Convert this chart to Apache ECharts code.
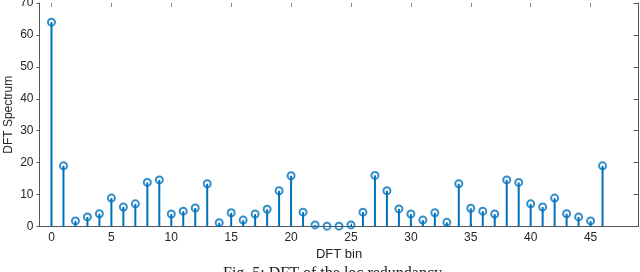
<!DOCTYPE html>
<html><head><meta charset="utf-8">
<script src="https://cdn.jsdelivr.net/npm/echarts@6/dist/echarts.min.js"></script>
<style>html,body{margin:0;padding:0;background:#fff}#c{width:640px;height:272px}</style>
</head><body><div id="c"></div>
<script>
const bins = [0,1,2,3,4,5,6,7,8,9,10,11,12,13,14,15,16,17,18,19,20,21,22,23,24,25,26,27,28,29,30,31,32,33,34,35,36,37,38,39,40,41,42,43,44,45,46];
const spectrum = [64,19.0,1.75,3.0,4.0,8.9,6.1,7.1,13.8,14.6,3.9,4.8,5.8,13.4,1.2,4.3,2.0,3.9,5.4,11.2,15.9,4.5,0.5,0.1,0.1,0.5,4.5,16.0,11.2,5.5,3.9,2.0,4.3,1.3,13.4,5.7,4.8,3.9,14.6,13.8,7.1,6.1,8.9,4.0,3.0,1.75,19.0];
const xTicks = [0,5,10,15,20,25,30,35,40,45];
const yTicks = [0,10,20,30,40,50,60,70];
const xLabel = 'DFT bin';
const yLabel = 'DFT Spectrum';
const caption = 'Fig. 5: DFT of the loc redundancy';

const blue = '#0072BD';
const axisCol = '#555';
const txt = '#262626';
const font = '"Liberation Sans", Arial, sans-serif';
const pts = bins.map((b,i)=>[b, spectrum[i]]);

const chart = echarts.init(document.getElementById('c'));
chart.setOption({
  animation:false,
  grid:{left:39.5, right:1.5, top:3, bottom:45.5, containLabel:false, outerBoundsMode:'none'},
  xAxis:[{
    type:'value', min:-1, max:49,
    axisLine:{show:true, onZero:false, lineStyle:{color:axisCol, width:1}},
    axisTick:{show:true, inside:true, length:3, customValues:xTicks, lineStyle:{color:axisCol}},
    axisLabel:{customValues:xTicks, color:txt, fontFamily:font, fontSize:12, margin:5},
    splitLine:{show:false},
    name:xLabel, nameLocation:'middle', nameGap:21, nameMoveOverlap:false,
    nameTextStyle:{color:txt, fontFamily:font, fontSize:13}
  },{
    type:'value', min:-1, max:49, position:'top',
    axisLine:{show:true, onZero:false, lineStyle:{color:'#fff', opacity:0}},
    axisTick:{show:true, inside:true, length:4, customValues:xTicks, lineStyle:{color:'#888'}},
    axisLabel:{show:false, customValues:xTicks}, splitLine:{show:false}
  }],
  yAxis:[{
    type:'value', min:0, max:70, interval:10,
    axisLine:{show:true, onZero:false, lineStyle:{color:axisCol, width:1}},
    axisTick:{show:true, inside:false, length:3, lineStyle:{color:axisCol}},
    axisLabel:{color:txt, fontFamily:font, fontSize:12, margin:6},
    splitLine:{show:false},
    name:yLabel, nameLocation:'middle', nameGap:25, nameMoveOverlap:false,
    nameTextStyle:{color:txt, fontFamily:font, fontSize:12}
  },{
    type:'value', min:0, max:70, interval:10, position:'right',
    axisLine:{show:true, onZero:false, lineStyle:{color:axisCol, width:1}},
    axisTick:{show:true, inside:true, length:5, lineStyle:{color:axisCol}},
    axisLabel:{show:false}, splitLine:{show:false}
  }],
  series:[{
    type:'custom', data:pts, z:2, silent:true,
    renderItem:function(params, api){
      const top = api.coord([api.value(0), api.value(1)]);
      const base = api.coord([api.value(0), 0]);
      return {type:'line', shape:{x1:base[0], y1:base[1], x2:top[0], y2:top[1]},
        style:{stroke:blue, lineWidth:2}};
    }
  },{
    type:'scatter', data:pts, symbol:'circle', symbolSize:7, z:3,
    itemStyle:{color:'rgba(0,0,0,0)', borderColor:blue, borderWidth:2}
  }],
  graphic:[{
    type:'text', left:223, top:266,
    style:{text:caption, fill:'#222', font:'16px "Liberation Serif", "Times New Roman", serif'}
  }]
});
</script></body></html>
